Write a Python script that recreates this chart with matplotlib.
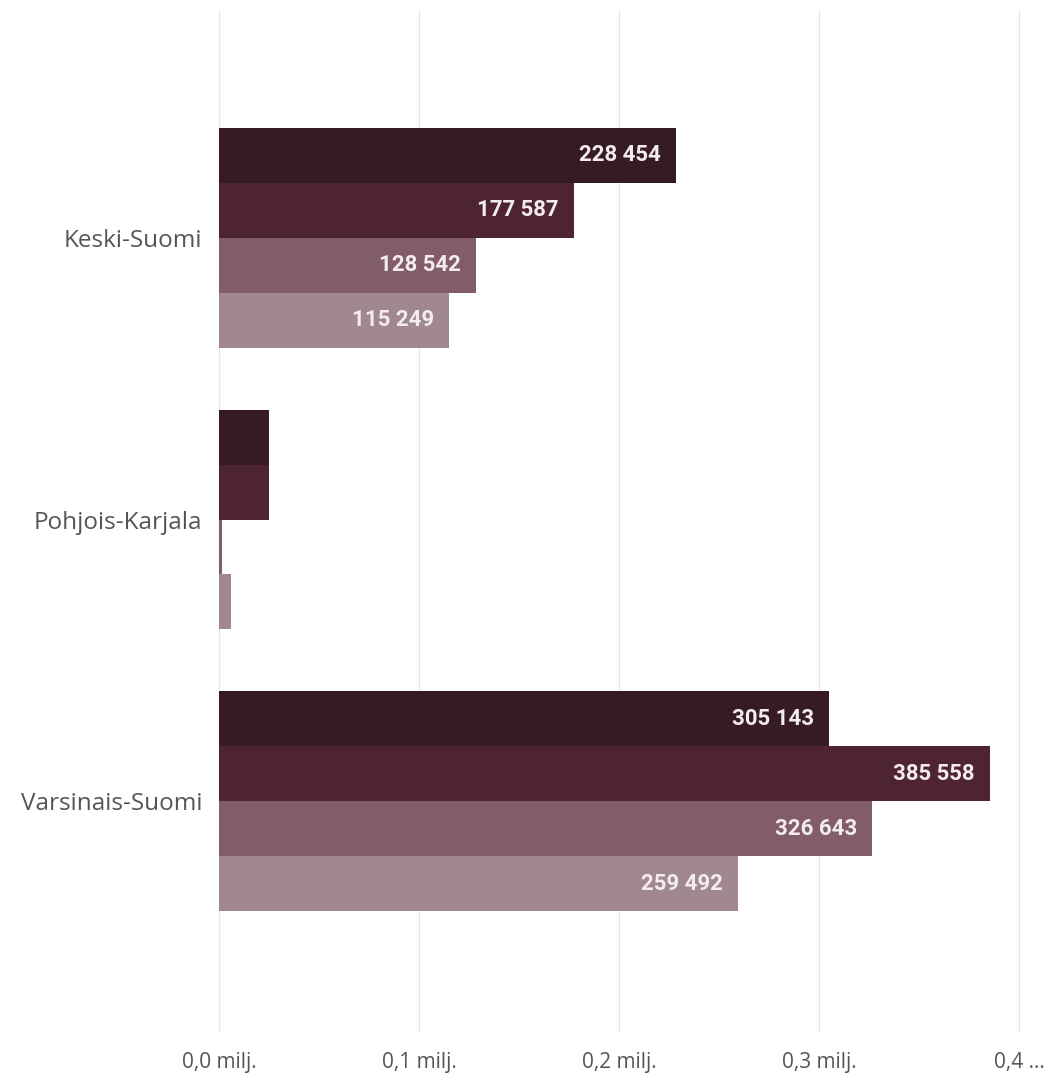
import numpy as np
import matplotlib.pyplot as plt

regions = ["Keski-Suomi", "Pohjois-Karjala", "Varsinais-Suomi"]
s1 = [228454, 25000, 305143]
s2 = [177587, 25000, 385558]
s3 = [128542, 1300, 326643]
s4 = [115249, 6000, 259492]
series = [s1, s2, s3, s4]
colors = ["#371b23", "#4e2432", "#825c67", "#a1878e"]
xticks = [0, 100000, 200000, 300000, 400000]
xtick_labels = ["0,0 milj.", "0,1 milj.", "0,2 milj.", "0,3 milj.", "0,4 ..."]

plt.rcParams["font.family"] = ["Open Sans", "DejaVu Sans"]

fig = plt.figure(figsize=(10.49, 10.77), dpi=100)
ax = fig.add_axes([219 / 1049, 44 / 1077, 830 / 1049, 1023 / 1077])

y = np.arange(len(regions))
h = 0.195
for i, (vals, c) in enumerate(zip(series, colors)):
    pos = y + (i - 1.5) * h
    bars = ax.barh(pos, vals, height=h, color=c, edgecolor="none", zorder=2)
    for b, v in zip(bars, vals):
        if v < 50000:
            continue
        ax.annotate(f"{v:,}".replace(",", " "),
                    xy=(v, b.get_y() + h / 2), xytext=(-11, 0),
                    textcoords="offset points", ha="right", va="center",
                    color="#f3ecee", fontsize=16, fontweight="bold",
                    family=["Roboto", "DejaVu Sans"])

ax.set_xlim(0, 415000)
ax.set_ylim(2.823, -0.809)
ax.set_xticks(xticks)
ax.set_xticklabels(xtick_labels)
ax.set_yticks(y)
ax.set_yticklabels(regions)
ax.tick_params(axis="both", length=0, colors="#555555", labelsize=15)
ax.tick_params(axis="y", labelsize=17.5, pad=12)
ax.tick_params(axis="x", pad=14)
ax.grid(axis="x", color="#e6e6e6", linewidth=1, zorder=0)
for s in ax.spines.values():
    s.set_visible(False)

plt.savefig("out.png", dpi=100)
